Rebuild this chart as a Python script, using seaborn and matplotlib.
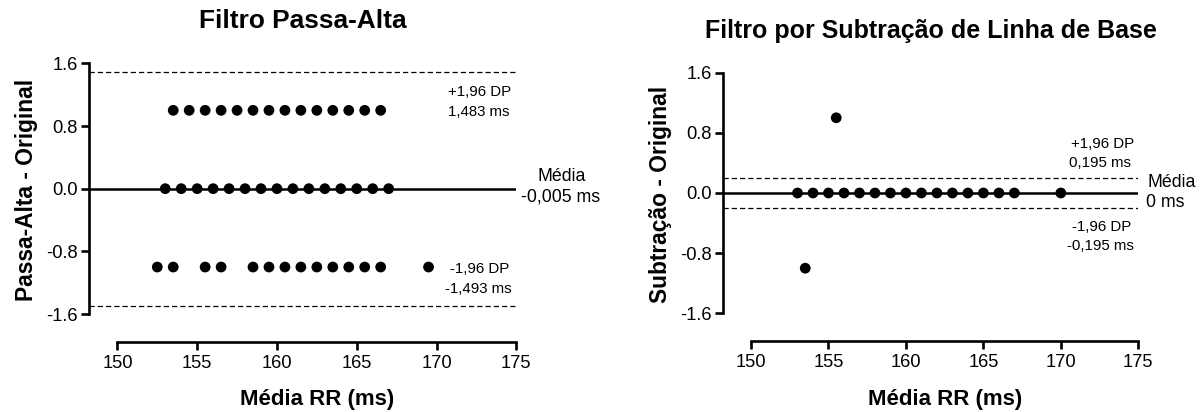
import matplotlib
matplotlib.use("Agg")
import matplotlib.pyplot as plt
import seaborn as sns
import pandas as pd

# ---------------- data ----------------
# Left panel: Filtro Passa-Alta (difference vs mean RR)
pa_upper_x = [153.5, 154.5, 155.5, 156.5, 157.5, 158.5, 159.5,
              160.5, 161.5, 162.5, 163.5, 164.5, 165.5, 166.5]
pa_upper_y = [1.0] * 14
pa_zero_x = [153, 154, 155, 156, 157, 158, 159, 160,
             161, 162, 163, 164, 165, 166, 167]
pa_zero_y = [0.0] * 15
pa_lower_x = [152.5, 153.5, 155.5, 156.5, 158.5, 159.5, 160.5,
              161.5, 162.5, 163.5, 164.5, 165.5, 166.5, 169.5]
pa_lower_y = [-1.0] * 14
pa_mean = -0.005
pa_upper_loa = 1.483
pa_lower_loa = -1.493

# Right panel: Filtro por Subtração de Linha de Base
sb_x = [153, 154, 155, 156, 157, 158, 159, 160, 161, 162,
        163, 164, 165, 166, 167, 170, 155.5, 153.5]
sb_y = [0.0, 0.0, 0.0, 0.0, 0.0, 0.0, 0.0, 0.0, 0.0, 0.0,
        0.0, 0.0, 0.0, 0.0, 0.0, 0.0, 1.0, -1.0]
sb_mean = 0.0
sb_upper_loa = 0.195
sb_lower_loa = -0.195

y_ticks = [-1.6, -0.8, 0.0, 0.8, 1.6]
y_ticklabels = ["-1.6", "-0.8", "0.0", "0.8", "1.6"]
x_ticks = [150, 155, 160, 165, 170, 175]
x_ticklabels = ["150", "155", "160", "165", "170", "175"]

titles = ["Filtro Passa-Alta", "Filtro por Subtração de Linha de Base"]
ylabels = ["Passa-Alta - Original", "Subtração - Original"]
xlabel = "Média RR (ms)"

pa_texts = ["+1,96 DP", "1,483 ms", "Média", "-0,005 ms", "-1,96 DP", "-1,493 ms"]
sb_texts = ["+1,96 DP", "0,195 ms", "Média", "0 ms", "-1,96 DP", "-0,195 ms"]

# ---------------- style ----------------
sns.set_theme(style="ticks")
plt.rcParams["font.family"] = ["Liberation Sans", "DejaVu Sans"]
plt.rcParams["text.color"] = "black"
plt.rcParams["axes.labelcolor"] = "black"
plt.rcParams["xtick.color"] = "black"
plt.rcParams["ytick.color"] = "black"

df_pa = pd.DataFrame({
    "media": pa_upper_x + pa_zero_x + pa_lower_x,
    "diff": pa_upper_y + pa_zero_y + pa_lower_y,
})
df_sb = pd.DataFrame({"media": sb_x, "diff": sb_y})

fig = plt.figure(figsize=(12, 4.12), dpi=100)
ax1 = fig.add_axes([0.07442, 0.17063, 0.35583, 0.68519])
ax2 = fig.add_axes([0.60275, 0.17233, 0.34583, 0.66044])

spine_w = 1.9
configs = [
    (ax1, df_pa, pa_mean, pa_upper_loa, pa_lower_loa, (148.24, 175), (-1.953, 1.65),
     pa_texts,
     [(172.7, 1.23), (172.65, 0.98), (177.85, 0.16), (177.8, -0.11),
      (172.7, -1.03), (172.65, -1.285)],
     [10.8, 10.8, 12.8, 12.8, 10.8, 10.8],
     -0.1318, 0.537, 18.9, 1.110),
    (ax2, df_sb, sb_mean, sb_upper_loa, sb_lower_loa, (148.21, 175), (-1.968, 1.65),
     sb_texts,
     [(172.67, 0.656), (172.56, 0.399), (177.13, 0.146), (176.76, -0.133),
      (172.62, -0.452), (172.56, -0.71)],
     [10.8, 10.8, 12.8, 12.8, 10.8, 10.8],
     -0.1357, 0.540, 18.0, 1.1147),
]

for i, (ax, df, mean, up, lo, xlim, ylim, texts, tpos, tsizes,
        ylab_x, ylab_y, title_fs, title_y) in enumerate(configs):
    ax.axhline(mean, color="black", lw=1.8, zorder=2)
    ax.axhline(up, color="black", lw=0.9, ls=(0, (4.2, 2.4)), zorder=2)
    ax.axhline(lo, color="black", lw=0.9, ls=(0, (4.2, 2.4)), zorder=2)
    sns.scatterplot(data=df, x="media", y="diff", ax=ax, color="black",
                    s=60, edgecolor="none", linewidth=0, zorder=3, legend=False)
    ax.set_xlim(*xlim)
    ax.set_ylim(*ylim)
    ax.set_xticks(x_ticks)
    ax.set_xticklabels(x_ticklabels)
    ax.set_yticks(y_ticks)
    ax.set_yticklabels(y_ticklabels)
    ax.spines["top"].set_visible(False)
    ax.spines["right"].set_visible(False)
    ax.spines["left"].set_bounds(-1.6, 1.6)
    ax.spines["bottom"].set_bounds(150, 175)
    for s in ("left", "bottom"):
        ax.spines[s].set_linewidth(spine_w)
        ax.spines[s].set_color("black")
        ax.spines[s].set_capstyle("projecting")
    ax.tick_params(axis="both", direction="out", length=6, width=spine_w,
                   labelsize=13.2, colors="black")
    ax.tick_params(axis="x", pad=3.5)
    ax.tick_params(axis="y", pad=2.5)
    ax.set_facecolor("white")

    ax.set_xlabel(xlabel, fontsize=16, fontweight="bold")
    ax.xaxis.label.set_va("baseline")
    xl_axes_x = (162.5 - xlim[0]) / (xlim[1] - xlim[0])
    ax.xaxis.set_label_coords(xl_axes_x, -0.224 if i == 0 else -0.235)

    ax.set_ylabel(ylabels[i], fontsize=16.4, fontweight="bold")
    ax.yaxis.label.set_va("baseline")
    ax.yaxis.set_label_coords(ylab_x, ylab_y)

    ax.set_title(titles[i], fontsize=title_fs, fontweight="bold",
                 y=title_y, va="baseline", pad=0)

    for t, (tx, ty), fs in zip(texts, tpos, tsizes):
        ax.text(tx, ty, t, ha="center", va="center", fontsize=fs,
                color="black", clip_on=False)

fig.savefig("out.png", dpi=100, facecolor="white")
